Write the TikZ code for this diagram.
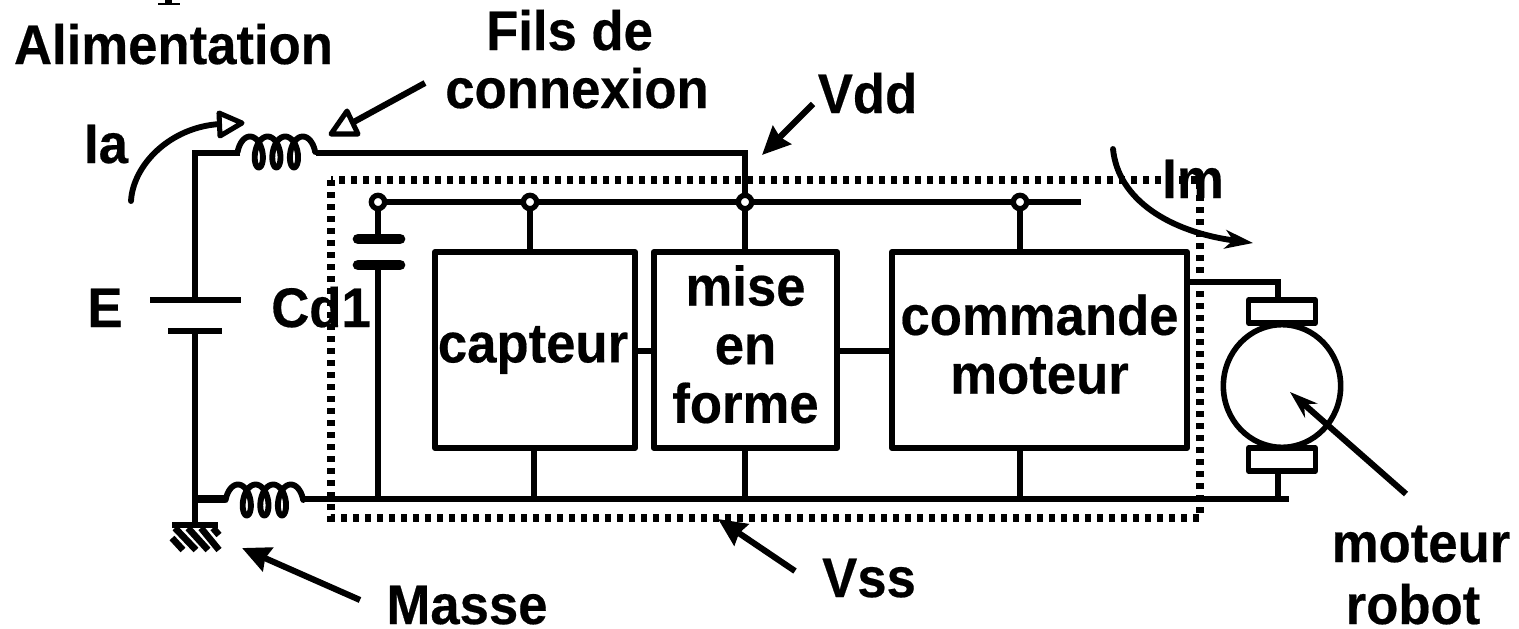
\documentclass[tikz,border=0pt]{standalone}
\usepackage{fontspec}
\setmainfont{Liberation Sans}[BoldFeatures={FakeStretch=0.945,FakeBold=0.35}]
\usetikzlibrary{arrows.meta,shapes.geometric}
\newcommand{\coilpath}[2]{\draw[coilwire] plot[domain=-1.5708:20.4204,samples=140,smooth] ({#1+2.8*\x+8*sin(\x r)},{#2-15.5*cos(\x r)});}
\tikzset{
  x=0.75pt,y=-0.75pt,
  wire/.style={line width=5pt,line cap=butt},
  thinwire/.style={line width=4pt},
  coilwire/.style={line width=4.4pt,line cap=round,line join=round},
  blockbox/.style={draw,line width=4.4pt,line join=round,inner sep=0pt,align=center,font=\fontsize{41.8pt}{44pt}\selectfont\bfseries},
  brush/.style={draw,fill=white,line width=4.2pt,line join=round,inner sep=0pt,minimum width=50pt,minimum height=17pt},
  plate/.style={line width=8pt,line cap=round},
  junction/.style={circle,draw,fill=white,line width=4pt,inner sep=0pt,minimum size=10pt},
  lab/.style={anchor=base,inner sep=0pt,align=center,font=\fontsize{41.8pt}{44pt}\selectfont\bfseries},
  pointer/.style={line width=4.6pt,-{Stealth[length=21pt,width=19pt,inset=2pt]}},
  slimpointer/.style={line width=4.6pt,-{Stealth[length=21pt,width=14pt,inset=7pt]}},
  openhead/.style={draw,fill=white,line width=3.8pt,line join=round},
  curvearrow/.style={line width=4.4pt,line cap=round},
  dotbox/.style={line width=5.4pt,dash pattern=on 4.8pt off 4.2pt}
}
\begin{document}
\begin{tikzpicture}
\useasboundingbox (0,0) rectangle (1519,628);
\fill[white] (0,0) rectangle (1519,628);
% clipped fragment at the top edge
\fill (165,0) rectangle (172,4);
\fill (158,3) rectangle (180,5);

% named points
\coordinate (topL) at (195,153);
\coordinate (coilAin) at (240,153);
\coordinate (coilAout) at (316,153);
\coordinate (topR) at (745,153);
\coordinate (botL) at (192,499);
\coordinate (coilBin) at (225,499);
\coordinate (coilBout) at (304,499);
\coordinate (botR) at (1289,499);
\coordinate (railEnd) at (1081,202);
\coordinate (batTop) at (195,300);
\coordinate (batBot) at (195,331);
\coordinate (gnd) at (195,525);

% blocks
\node[blockbox,minimum width=150pt,minimum height=147pt] (capteur) at (535,350) {\hspace*{-3pt}\raisebox{-2pt}{capteur}};
\node[blockbox,minimum width=137.5pt,minimum height=147pt] (mise) at (745.5,350) {mise\\en\\forme\\[-35pt]\mbox{}};
\node[blockbox,minimum width=221.25pt,minimum height=147pt] (cmd) at (1039.5,350) {commande\\moteur\\[-35pt]\mbox{}};

% motor
\node[ellipse,draw,fill=white,line width=4.2pt,minimum width=88pt,minimum height=92pt,inner sep=0pt] (motor) at (1282,386) {};
\node[brush] (brushT) at (1282,311.5) {};
\node[brush] (brushB) at (1282,459.5) {};

% rails
\node[junction] (j1) at (378,202) {};
\node[junction] (j2) at (530,202) {};
\node[junction] (j3) at (745,202) {};
\node[junction] (j4) at (1020,202) {};
\draw[wire] (j1) -- (j2);
\draw[wire] (j2) -- (j3);
\draw[wire] (j3) -- (j4);
\draw[wire] (j4) -- (railEnd);
\draw[wire] (topL) -- (coilAin);
\draw[wire,line join=miter] (coilAout) -- (topR) -- (j3);
\draw[wire,line join=miter] (coilAin) -- (topL) -- (batTop);
\draw[wire] (batBot) -- (gnd);
\draw[line width=5.6pt] (botL) -- (coilBin);
\draw[wire] (coilBout) -- (botR);
\coilpath{250}{152}
\coilpath{238}{500}

% battery
\draw[wire] (150,300) -- (241,300);
\draw[wire] (168,331) -- (222,331);

% decoupling capacitor
\coordinate (capA) at (378,239);
\coordinate (capB) at (378,265);
\coordinate (capBot) at (378,499);
\draw[wire] (j1) -- (capA);
\draw[wire] (capB) -- (capBot);
\draw[plate] (358,239) -- (400,239);
\draw[plate] (358,265) -- (400,265);

% block connections
\draw[wire] (j2) -- (530,252);
\draw[wire] (j3) -- (745,252);
\draw[wire] (j4) -- (1020,252);
\draw[wire] (534,448) -- (534,499);
\draw[wire] (745,448) -- (745,499);
\draw[wire] (1020,448) -- (1020,499);
\draw[wire] (capteur.east |- 0,351) -- (mise.west |- 0,351);
\draw[wire] (mise.east |- 0,351) -- (cmd.west |- 0,351);
\draw[thinwire,line join=miter] (1187,282) -- (1278,282) -- (1278,300);
\draw[thinwire] (1278,471) -- (1278,499);

% ground
\draw[wire] (172,525) -- (218,525);
\draw[wire] (172,538) -- (183,550);
\draw[wire] (175,528) -- (196,550);
\draw[wire] (188,528) -- (208,550);
\draw[wire] (201,528) -- (219,550);
\draw[wire] (213,528) -- (219,535);

% dotted boundary
\draw[dotbox] (331,180) rectangle (1200,518);

% labels
\node[lab] (lAlim) at (173.5,64) {Alimentation};
\node[lab] (lFils) at (569.5,50) {Fils de};
\node[lab] (lConn) at (577,108) {connexion};
\node[lab] (lVdd) at (867.5,113) {Vdd};
\node[lab] (lIa) at (106,163) {Ia};
\node[lab] (lIm) at (1193,198) {Im};
\node[lab] (lE) at (105,327) {E};
\node[lab] (lCd) at (321,327) {Cd1};
\node[lab] (lVss) at (869,597) {Vss};
\node[lab] (lMasse) at (467,624) {Masse};
\node[lab] (lMot) at (1421,562) {moteur};
\node[lab] (lRob) at (1413,624) {robot};

% arrows
\coordinate (aFilsS) at (425,83);
\coordinate (aFilsE) at (350,124);
\coordinate (aVddS) at (813,104);
\coordinate (aVddE) at (762,155);
\coordinate (aVssS) at (795,571);
\coordinate (aVssE) at (718,519);
\coordinate (aMasS) at (360,600);
\coordinate (aMasE) at (242,548);
\coordinate (aMotS) at (1406,494);
\coordinate (aMotE) at (1290,392);
\draw[line width=4.6pt] (aFilsS) -- (aFilsE);
\draw[openhead] (347,111) -- (358,134) -- (331,134) -- cycle;
\draw[pointer] (aVddS) -- (aVddE);
\draw[pointer] (aVssS) -- (aVssE);
\draw[pointer] (aMasS) -- (aMasE);
\draw[slimpointer] (aMotS) -- (aMotE);
\coordinate (aIaS) at (131,201);
\coordinate (aIaE) at (220,124);
\coordinate (aImS) at (1113,149);
\coordinate (aImE) at (1253,243);
\draw[curvearrow] (aIaS) .. controls (133,165) and (170,127) .. (aIaE);
\draw[openhead] (219,113) -- (242,123) -- (220,136) -- cycle;
\draw[curvearrow,-{Stealth[length=21pt,width=14pt,inset=6pt]}] (aImS) .. controls (1118,200) and (1170,232) .. (aImE);
\end{tikzpicture}
\end{document}
